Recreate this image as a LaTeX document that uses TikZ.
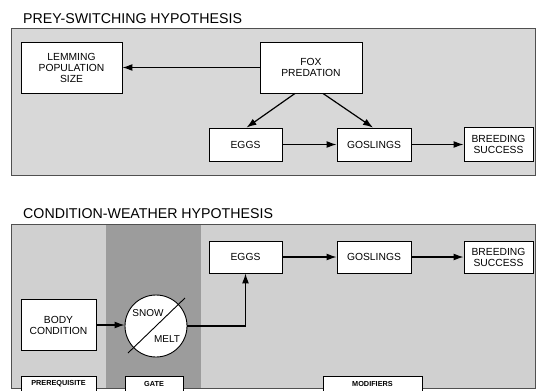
\documentclass[tikz,border=0pt]{standalone}
\usepackage{fontspec}
\setmainfont{Liberation Sans}
\usetikzlibrary{arrows.meta,calc}
\definecolor{panelA}{HTML}{D8D8D8}
\definecolor{panelL}{HTML}{D0D0D0}
\definecolor{panelD}{HTML}{9C9C9C}
\definecolor{edge}{HTML}{505050}
\tikzset{
  box/.style={draw=black,line width=0.9pt,fill=white,align=center,inner sep=1pt,
    font=\fontsize{10.3}{11}\selectfont},
  lab/.style={draw=black,line width=0.9pt,fill=white,align=center,inner sep=1pt},
  labtext/.style={inner sep=0pt,font=\fontsize{7.3}{8}\selectfont\bfseries},
  arr/.style={line width=1.2pt,-{Latex[length=10pt,width=7pt]}},
  title/.style={anchor=base west,inner sep=0pt,font=\fontsize{14.2}{15}\selectfont},
  panel/.style={draw=edge,line width=1pt}
}
\begin{document}
\begin{tikzpicture}[x=1pt,y=-1pt]
\useasboundingbox (0,0) rectangle (536,391);
\clip (0,0) rectangle (536,391);
\fill[white] (0,0) rectangle (536,391);
% top panel
\node[title] (t1) at (23,23) {PREY-SWITCHING HYPOTHESIS};
\filldraw[panel,fill=panelA] (11,28) rectangle (535,175);
\node[box,minimum width=101pt,minimum height=51pt] (lem) at (71.5,67.5) {LEMMING\\POPULATION\\SIZE};
\node[box,minimum width=102pt,minimum height=51pt] (fox) at (311,67.5) {FOX\\PREDATION};
\node[box,minimum width=73pt,minimum height=33pt] (eggsA) at (245.5,144.5) {EGGS};
\node[box,minimum width=74pt,minimum height=33pt] (gosA) at (374,144.5) {GOSLINGS};
\node[box,minimum width=69pt,minimum height=34pt] (brA) at (498.5,144.5) {BREEDING\\SUCCESS};
\draw[arr] (fox.west) -- (lem.east);
\draw[arr] ([xshift=-16pt]fox.south) -- ([xshift=1pt]eggsA.north);
\draw[arr] ([xshift=12pt]fox.south) -- ([xshift=-1pt]gosA.north);
\draw[arr] (eggsA.east) -- (gosA.west);
\draw[arr] (gosA.east) -- (brA.west);
% bottom panel
\node[title] (t2) at (23,218) {CONDITION-WEATHER HYPOTHESIS};
\fill[panelL] (11,224) rectangle (535,388);
\fill[panelD] (106,224) rectangle (201,388);
\draw[panel] (11,224) rectangle (535,388);
\node[box,minimum width=73pt,minimum height=32pt] (eggsB) at (245.5,257) {EGGS};
\node[box,minimum width=74pt,minimum height=32pt] (gosB) at (374,257) {GOSLINGS};
\node[box,minimum width=69pt,minimum height=32pt] (brB) at (498.5,257) {BREEDING\\SUCCESS};
\node[box,minimum width=75pt,minimum height=51pt] (body) at (58.5,325) {BODY\\CONDITION};
\node[draw=black,line width=0.9pt,fill=white,circle,minimum size=62pt,inner sep=0pt] (snow) at (156,326) {};
\coordinate (d1) at (128,353);
\coordinate (d2) at (185,298);
\draw[line width=0.9pt] (d1) -- (d2);
\node[font=\fontsize{10}{11}\selectfont,inner sep=0pt] (sn) at (148,313) {SNOW};
\node[font=\fontsize{10}{11}\selectfont,inner sep=0pt] (ml) at (167,339) {MELT};
\draw[arr] (body.east) -- (body.east -| snow.west);
\draw[arr] (snow.east) -| (eggsB.south);
\draw[arr] (eggsB.east) -- (gosB.west);
\draw[arr] (gosB.east) -- (brB.west);
\node[lab,minimum width=75pt,minimum height=22pt,anchor=north] (pre) at (58.5,376) {};
\node[lab,minimum width=58pt,minimum height=22pt,anchor=north] (gate) at (154,376) {};
\node[lab,minimum width=99pt,minimum height=22pt,anchor=north] (mod) at (372.5,376) {};
\node[labtext] (preT) at (58.5,383.5) {PREREQUISITE};
\node[labtext] (gateT) at (154,383.5) {GATE};
\node[labtext] (modT) at (372.5,383.5) {MODIFIERS};
\end{tikzpicture}
\end{document}
